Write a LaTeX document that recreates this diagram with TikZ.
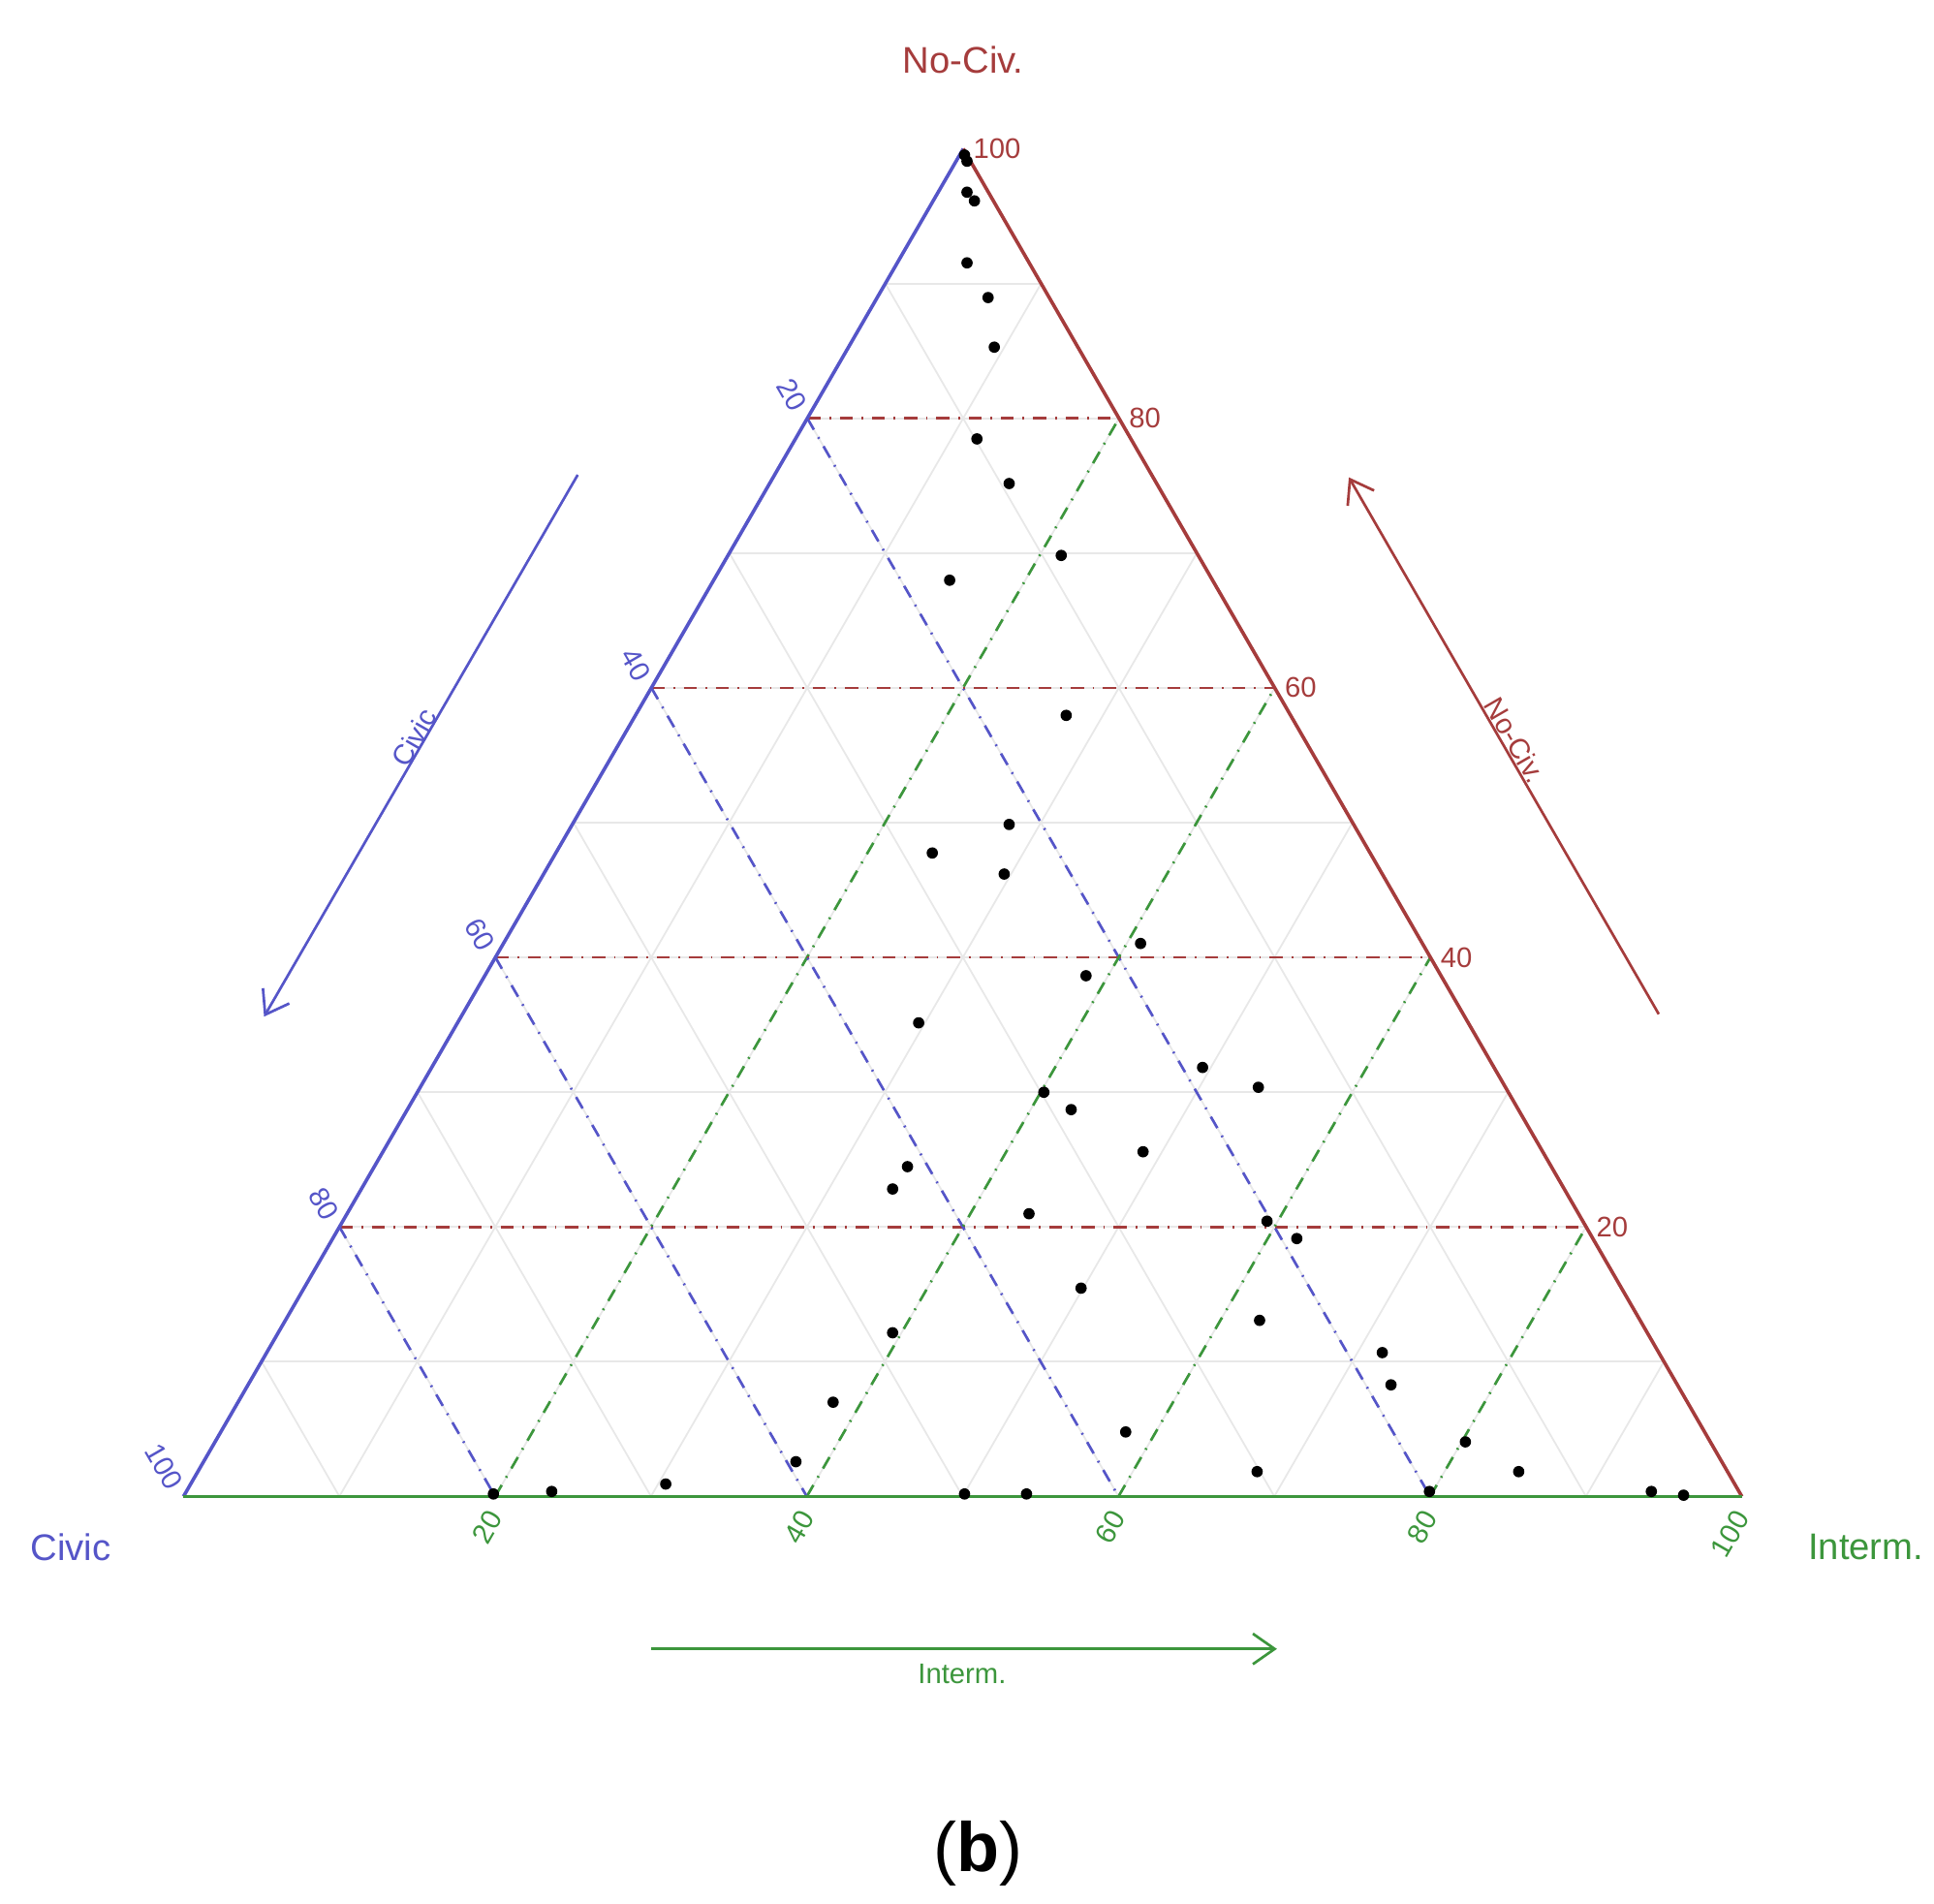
\documentclass[tikz,border=0pt]{standalone}
\usepackage{fontspec}
\setmainfont{Liberation Sans}
\usetikzlibrary{calc,arrows.meta}
\definecolor{cred}{RGB}{165,60,60}
\definecolor{cblue}{RGB}{85,85,200}
\definecolor{cgreen}{RGB}{60,150,60}
\begin{document}
\begin{tikzpicture}[x=0.01cm,y=-0.01cm,
  grid/.style={gray!18,line width=0.4pt},
  rdash/.style={cred,dash dot,line width=0.6pt},
  bdash/.style={cblue,dash dot,line width=0.6pt},
  gdash/.style={cgreen,dash dot,line width=0.6pt},
  lab/.style={font=\fontsize{6.5}{8}\selectfont,inner sep=1pt},
  big/.style={font=\fontsize{8.5}{10}\selectfont,inner sep=1pt},
  axarr/.style={-{Straight Barb[length=5pt,width=7pt]},line width=0.6pt},
  dot/.style={fill=black,circle,inner sep=0pt,minimum size=2.6pt}]
\useasboundingbox (0,0) rectangle (1560,1535);
\coordinate (L) at (148,1207);
\coordinate (R) at (1405,1207);
\coordinate (T) at (777,120);
\foreach \k in {0.1,0.2,...,0.91}{
  \draw[grid] ($(L)!\k!(T)$) -- ($(R)!\k!(T)$);
  \draw[grid] ($(T)!\k!(L)$) -- ($(R)!\k!(L)$);
  \draw[grid] ($(L)!\k!(R)$) -- ($(T)!\k!(R)$);
}
\foreach \k in {0.2,0.4,0.6,0.8}{
  \draw[rdash] ($(L)!\k!(T)$) -- ($(R)!\k!(T)$);
  \draw[bdash] ($(T)!\k!(L)$) -- ($(R)!\k!(L)$);
  \draw[gdash] ($(L)!\k!(R)$) -- ($(T)!\k!(R)$);
}
\draw[cblue,line width=0.8pt] (L) -- (T);
\draw[cred,line width=0.8pt] (T) -- (R);
\draw[cgreen,line width=0.8pt] (L) -- (R);
\foreach \v in {20,40,60,80,100}{
  \pgfmathsetmacro\f{\v/100}
  \node[lab,text=cred,anchor=west] (r\v) at ($(R)!\f!(T)+(4,0)$) {\v};
  \node[lab,text=cblue,anchor=east,rotate=-60] (b\v) at ($(T)!\f!(L)+(-4,-4)$) {\v};
  \node[lab,text=cgreen,anchor=east,rotate=60] (g\v) at ($(L)!\f!(R)+(2,10)$) {\v};
}
\node[big,text=cred] (tn) at (777,48) {No-Civ.};
\node[big,text=cblue] (tc) at (57,1248) {Civic};
\node[big,text=cgreen] (ti) at (1505,1248) {Interm.};
\coordinate (ca) at (466,383); \coordinate (cb) at (213,820);
\draw[cblue,axarr] (ca) -- (cb);
\node[lab,text=cblue,rotate=60] (cl) at (334,595) {Civic};
\coordinate (na) at (1338,818); \coordinate (nb) at (1088,385);
\draw[cred,axarr] (na) -- (nb);
\node[lab,text=cred,rotate=-60] (nl) at (1222,597) {No-Civ.};
\coordinate (ia) at (525,1330); \coordinate (ib) at (1030,1330);
\draw[cgreen,axarr] (ia) -- (ib);
\node[lab,text=cgreen] (il) at (776,1350) {Interm.};
\foreach \x/\y in {778/125,780/130,780/155,786/162,780/212,797/240,802/280,788/354,814/390,856/448,766/468,860/577,814/665,752/688,810/705,920/761,876/787,741/825,970/861,1015/877,842/881,864/895,922/929,732/941,720/959,830/979,1022/985,1046/999,872/1039,1016/1065,720/1075,1115/1091,1122/1117,672/1131,908/1155,1182/1163,642/1179,1014/1187,1225/1187,537/1197,398/1205,445/1203,778/1205,828/1205,1153/1203,1332/1203,1358/1206}
  \node[dot] at (\x,\y) {};
\node[font=\fontsize{16}{18}\selectfont] (cap) at (789,1495) {(\textbf{b})};
\end{tikzpicture}
\end{document}
